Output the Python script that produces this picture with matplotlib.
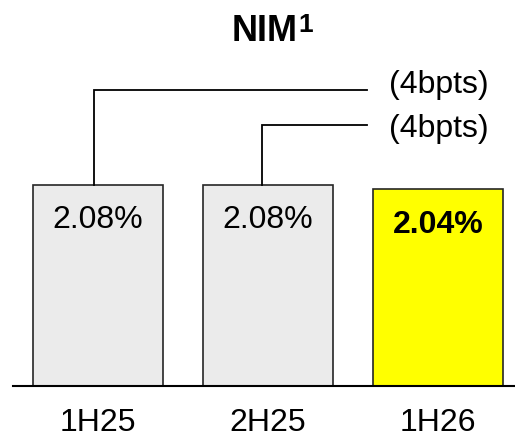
import matplotlib
matplotlib.use("Agg")
import matplotlib.pyplot as plt

plt.rcParams['font.family'] = ['Liberation Sans', 'DejaVu Sans']

categories = ["1H25", "2H25", "1H26"]
values = [2.08, 2.08, 2.04]
value_labels = ["2.08%", "2.08%", "2.04%"]
highlight = [False, False, True]
change_labels = ["(4bpts)", "(4bpts)"]
title = "NIM"
title_note = "1"

W, H, DPI = 515, 438, 100
fig = plt.figure(figsize=(W / DPI, H / DPI), dpi=DPI)
BASE = 386  # baseline y in pixels from top
ax = fig.add_axes([13 / W, (H - BASE) / H, (W - 13) / W, (BASE - 5) / H])

px_per_x = 170.0
x0_px = 97.75
ax.set_xlim((13 - x0_px) / px_per_x, (W - x0_px) / px_per_x)
px_per_y = 201 / values[0]
ax.set_ylim(0, (BASE - 5) / px_per_y)


def xd(px):
    return (px - x0_px) / px_per_x


def yd(px):
    return (BASE - px) / px_per_y


x = list(range(len(categories)))
colors = ["#FFFF00" if h else "#EBEBEB" for h in highlight]
ax.bar(x, values, width=130 / px_per_x, color=colors, edgecolor="#262626",
       linewidth=1.2, zorder=2)

for xi, v, lab, h in zip(x, values, value_labels, highlight):
    ax.annotate(lab, (xi, v), xytext=(0, -43 if not h else -44),
                textcoords="offset pixels", ha="center", va="baseline",
                fontsize=23, fontweight="bold" if h else "normal", color="black")

# connector lines from earlier periods to the change labels
line_y_px = [90, 124.5]
stem_dx_px = [-3.5, -5.7]
text_base_px = [92.5, 137.5]
line_end = xd(367)
text_x = xd(389)
for xi, ly, dx, tb, lab in zip(x[:2], line_y_px, stem_dx_px, text_base_px, change_labels):
    sx = xi + dx / px_per_x
    ax.plot([sx, sx, line_end], [values[xi], yd(ly), yd(ly)], color="black",
            linewidth=1.3, solid_joinstyle="miter", zorder=3)
    ax.text(text_x, yd(tb), lab, ha="left", va="baseline", fontsize=23)

ax.set_xticks(x)
ax.set_xticklabels(categories, fontsize=23, va="baseline")
ax.tick_params(axis="x", length=0, pad=(431 - BASE) * 72 / DPI)
ax.set_yticks([])
for s in ["top", "right", "left"]:
    ax.spines[s].set_visible(False)
ax.spines["bottom"].set_linewidth(1.5)
ax.spines["bottom"].set_zorder(4)

fig.text(232 / W, 1 - 41 / H, title, ha="left", va="baseline",
         fontsize=26, fontweight="bold")
fig.text(298 / W, 1 - 32 / H, title_note, ha="left", va="baseline",
         fontsize=19, fontweight="bold")

fig.savefig("out.png", dpi=DPI)
